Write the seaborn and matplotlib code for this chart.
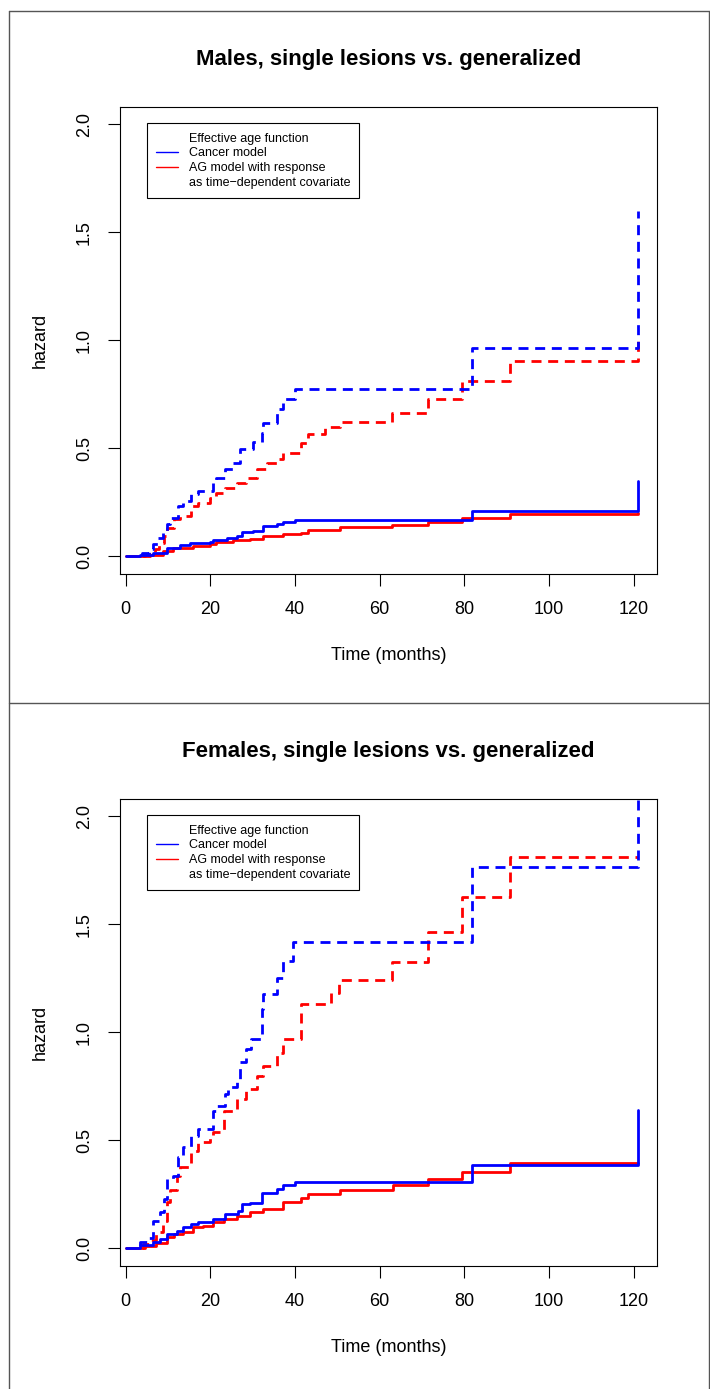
import matplotlib
matplotlib.use("Agg")
import matplotlib.pyplot as plt
from matplotlib.lines import Line2D
import seaborn as sns
import pandas as pd

# ---------------- data ----------------
titles = ["Males, single lesions vs. generalized", "Females, single lesions vs. generalized"]
legend_labels = ["Effective age function", "Cancer model", "AG model with response",
                 "as time\u2212dependent covariate"]
x_ticks = [0, 20, 40, 60, 80, 100, 120]
y_ticks = [0.0, 0.5, 1.0, 1.5, 2.0]

# Males
m_blue_dash_t = [0, 3.8, 5.4, 6.5, 7.6, 8.8, 9.7, 10.4, 12.4, 13.5, 15.5, 17.1, 20.7, 21.4, 23.4,
                 25.4, 26.9, 30.1, 32.1, 32.5, 35.7, 37.2, 40.0, 81.7, 121]
m_blue_dash_h = [0, 0.017, 0.032, 0.055, 0.086, 0.117, 0.148, 0.179, 0.233, 0.256, 0.287, 0.302,
                 0.348, 0.364, 0.402, 0.433, 0.495, 0.530, 0.572, 0.618, 0.680, 0.726, 0.775,
                 0.965, 1.60]
m_red_dash_t = [0, 4.6, 6.9, 7.8, 9.0, 9.8, 11.3, 12.8, 15.5, 17.1, 19.9, 21.4, 23.4, 26.2, 28.5,
                30.9, 33.3, 35.9, 37.2, 41.5, 43.1, 47.1, 50.6, 63.0, 71.3, 79.4, 90.8, 121]
m_red_dash_h = [0, 0.012, 0.032, 0.062, 0.094, 0.132, 0.171, 0.186, 0.233, 0.248, 0.271, 0.294,
                0.317, 0.341, 0.364, 0.402, 0.433, 0.448, 0.479, 0.525, 0.564, 0.597, 0.620,
                0.664, 0.730, 0.810, 0.903, 1.02]
m_blue_solid_t = [0, 3.4, 6.5, 9.7, 12.8, 15.2, 19.9, 20.7, 23.9, 26.2, 27.4, 30.1, 32.5, 35.7,
                  37.2, 40.0, 81.7, 121]
m_blue_solid_h = [0, 0.005, 0.017, 0.036, 0.051, 0.060, 0.066, 0.075, 0.086, 0.094, 0.110, 0.117,
                  0.140, 0.151, 0.159, 0.168, 0.210, 0.348]
m_red_solid_t = [0, 5.7, 8.8, 11.1, 15.9, 19.9, 21.4, 25.4, 29.3, 32.5, 37.2, 41.5, 43.1, 50.6,
                 63.0, 71.3, 79.4, 90.8, 121]
m_red_solid_h = [0, 0.007, 0.025, 0.036, 0.048, 0.055, 0.066, 0.075, 0.082, 0.094, 0.102, 0.109,
                 0.122, 0.134, 0.143, 0.159, 0.176, 0.197, 0.200]

# Females
f_blue_dash_t = [0, 3.4, 5.4, 6.5, 8.0, 9.0, 9.8, 11.1, 12.4, 13.5, 15.5, 17.1, 20.7, 21.4, 23.4,
                 24.2, 26.2, 27.0, 28.5, 29.7, 32.1, 32.5, 35.7, 37.2, 39.6, 81.7, 121]
f_blue_dash_h = [0, 0.028, 0.046, 0.128, 0.167, 0.228, 0.321, 0.336, 0.421, 0.467, 0.521, 0.552,
                 0.637, 0.660, 0.714, 0.745, 0.783, 0.860, 0.922, 0.968, 1.106, 1.176, 1.253,
                 1.330, 1.419, 1.764, 2.30]
f_red_dash_t = [0, 4.0, 5.4, 7.1, 8.8, 9.8, 10.4, 12.1, 12.8, 15.5, 17.1, 19.9, 20.7, 23.1, 26.2,
                28.5, 30.9, 32.5, 35.7, 37.2, 41.5, 48.5, 50.4, 63.0, 71.3, 79.4, 90.8, 121]
f_red_dash_h = [0, 0.020, 0.036, 0.075, 0.125, 0.213, 0.268, 0.336, 0.375, 0.452, 0.490, 0.514,
                0.537, 0.637, 0.691, 0.737, 0.799, 0.845, 0.906, 0.968, 1.129, 1.183, 1.242,
                1.327, 1.465, 1.627, 1.810, 1.810]
f_blue_solid_t = [0, 3.4, 6.5, 8.0, 9.7, 12.1, 13.5, 15.5, 17.1, 20.7, 23.4, 26.5, 27.4, 29.3,
                  32.1, 35.7, 37.2, 40.0, 81.7, 121]
f_blue_solid_h = [0, 0.013, 0.028, 0.043, 0.067, 0.082, 0.097, 0.113, 0.121, 0.136, 0.159, 0.174,
                  0.205, 0.210, 0.256, 0.274, 0.293, 0.308, 0.385, 0.640]
f_red_solid_t = [0, 4.6, 7.1, 9.7, 11.3, 13.5, 15.9, 18.3, 20.7, 23.1, 26.2, 29.3, 32.5, 37.2,
                 41.5, 43.1, 50.6, 63.2, 71.3, 79.4, 90.8, 121]
f_red_solid_h = [0, 0.010, 0.025, 0.050, 0.067, 0.077, 0.097, 0.105, 0.121, 0.136, 0.151, 0.167,
                 0.182, 0.213, 0.232, 0.249, 0.268, 0.291, 0.320, 0.355, 0.395, 0.395]

panels = [
    [(m_red_dash_t, m_red_dash_h, "red", "dash"), (m_blue_dash_t, m_blue_dash_h, "blue", "dash"),
     (m_red_solid_t, m_red_solid_h, "red", "solid"), (m_blue_solid_t, m_blue_solid_h, "blue", "solid")],
    [(f_red_dash_t, f_red_dash_h, "red", "dash"), (f_blue_dash_t, f_blue_dash_h, "blue", "dash"),
     (f_red_solid_t, f_red_solid_h, "red", "solid"), (f_blue_solid_t, f_blue_solid_h, "blue", "solid")],
]

# ---------------- style ----------------
sns.set_theme(style="white")
plt.rcParams["font.family"] = ["Liberation Sans", "DejaVu Sans"]
plt.rcParams["axes.edgecolor"] = "black"
plt.rcParams["axes.linewidth"] = 0.8
plt.rcParams["text.color"] = "black"
plt.rcParams["axes.labelcolor"] = "black"
plt.rcParams["xtick.color"] = "black"
plt.rcParams["ytick.color"] = "black"
plt.rcParams["legend.labelcolor"] = "black"

W, H = 710, 1389
fig = plt.figure(figsize=(W / 100, H / 100), dpi=100)

def fx(px):
    return px / W

def fy(py):
    return 1 - py / H

colors = {"red": "#FF0000", "blue": "#0000FF"}
panel_top = [11, 703]

for i, series in enumerate(panels):
    off = panel_top[i] - 11
    ax_top, ax_bot = 107 + off, 573.5 + off
    ax = fig.add_axes([fx(120), fy(ax_bot), fx(657) - fx(120), (ax_bot - ax_top) / H])
    for t, h, c, ls in series:
        df = pd.DataFrame({"time": t, "hazard": h})
        line_kw = dict(color=colors[c], linewidth=2.0, drawstyle="steps-post")
        if ls == "dash":
            line_kw["dashes"] = (3.6, 2.4)
        sns.lineplot(data=df, x="time", y="hazard", estimator=None, sort=False, ax=ax, **line_kw)
    ax.set_xlim(-1.35, 125.5)
    ax.set_ylim(-0.08, 2.08)
    ax.set_xticks(x_ticks)
    ax.set_yticks(y_ticks)
    ax.set_xticklabels([str(v) for v in x_ticks])
    ax.set_yticklabels([f"{v:.1f}" for v in y_ticks], rotation=90, va="center")
    ax.tick_params(axis="both", which="major", direction="out", length=8.5, width=0.8,
                   color="black", labelcolor="black", labelsize=13, pad=11,
                   bottom=True, left=True)
    ax.set_xlabel("")
    ax.set_ylabel("")
    for s in ax.spines.values():
        s.set_color("black")
        s.set_linewidth(0.8)

    handles = [Line2D([], [], color="none"),
               Line2D([], [], color=colors["blue"], lw=1.0),
               Line2D([], [], color=colors["red"], lw=1.0),
               Line2D([], [], color="none")]
    leg = ax.legend(handles, legend_labels, loc="upper left",
                    bbox_to_anchor=((146.7 - 120) / 537, (ax_bot - (123.3 + off)) / (ax_bot - ax_top)),
                    fontsize=9, frameon=True, fancybox=False, edgecolor="black",
                    framealpha=1, borderpad=0.75, handlelength=1.75, handletextpad=0.85,
                    labelspacing=0.21, borderaxespad=0)
    leg.get_frame().set_linewidth(0.8)
    for txt in leg.get_texts():
        txt.set_color("black")

    fig.text(fx(388.5), fy(60 + off), titles[i], ha="center", va="center",
             fontsize=16, fontweight="bold", color="black")
    fig.text(fx(388.5), fy(655 + off), "Time (months)", ha="center", va="center",
             fontsize=13, color="black")
    fig.text(fx(40), fy((ax_top + ax_bot) / 2), "hazard", ha="center", va="center",
             fontsize=13, rotation=90, color="black")

# outer device frame lines
frame_kw = dict(color="#555555", linewidth=1.0, transform=fig.transFigure)
fig.add_artist(Line2D([fx(9), fx(9)], [fy(11), 0], **frame_kw))
fig.add_artist(Line2D([fx(9), fx(709)], [fy(11), fy(11)], **frame_kw))
fig.add_artist(Line2D([fx(709), fx(709)], [fy(11), 0], **frame_kw))
fig.add_artist(Line2D([fx(9), 1], [fy(703), fy(703)], **frame_kw))

fig.savefig("out.png", dpi=100, facecolor="white")
